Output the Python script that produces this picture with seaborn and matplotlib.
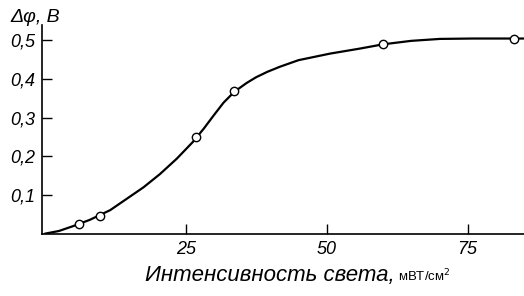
import numpy as np
import matplotlib
matplotlib.use("Agg")
import matplotlib.pyplot as plt
import seaborn as sns
import pandas as pd

# measured points (open circles)
point_x = [6.0, 9.8, 26.9, 33.6, 60.0, 83.3]
point_y = [0.024, 0.045, 0.249, 0.369, 0.491, 0.505]

# smooth curve
curve_x = [0.0, 2.5, 5.1, 8.0, 11.6, 14.5, 17.5, 20.4, 23.4, 26.3, 28.2, 29.9,
           31.7, 33.6, 35.8, 37.5, 39.5, 41.7, 45.0, 50.6, 55.9, 60.0, 65.0, 70.1,
           76.0, 83.3, 85.0]
curve_y = [0.0, 0.007, 0.020, 0.036, 0.061, 0.090, 0.120, 0.154, 0.194, 0.238,
           0.272, 0.305, 0.339, 0.367, 0.390, 0.405, 0.419, 0.432, 0.449, 0.466,
           0.479, 0.490, 0.499, 0.504, 0.505, 0.505, 0.505]

x_ticks = [25, 50, 75]
y_ticks = [0.1, 0.2, 0.3, 0.4, 0.5]
y_tick_labels = ["0,1", "0,2", "0,3", "0,4", "0,5"]

sns.set_style("ticks")
plt.rcParams['font.family'] = ['Liberation Sans', 'DejaVu Sans']
plt.rcParams['text.color'] = 'black'
plt.rcParams['xtick.color'] = 'black'
plt.rcParams['ytick.color'] = 'black'
plt.rcParams['axes.edgecolor'] = 'black'

W, H = 524, 296
fig = plt.figure(figsize=(W / 100, H / 100), dpi=100)
ax = fig.add_axes([42 / W, (H - 233.7) / H, (W - 42) / W, (233.7 - 25) / H])

curve = pd.DataFrame({'x': curve_x, 'y': curve_y})
points = pd.DataFrame({'x': point_x, 'y': point_y})
sns.lineplot(data=curve, x='x', y='y', ax=ax, color='black', linewidth=1.6, sort=False)
sns.scatterplot(data=points, x='x', y='y', ax=ax, s=36, facecolor='white',
                edgecolor='black', linewidth=1.0, zorder=3)

ax.set_xlim(-0.5, 85)
ax.set_ylim(0, 0.54)
ax.set_xticks(x_ticks)
ax.set_xticklabels([str(t) for t in x_ticks], fontstyle='italic', fontsize=13)
ax.set_yticks(y_ticks)
ax.set_yticklabels(y_tick_labels, fontstyle='italic', fontsize=13)
ax.tick_params(direction='in', length=7, width=1.0, pad=5)
sns.despine(ax=ax)
for s in ['left', 'bottom']:
    ax.spines[s].set_linewidth(1.2)
ax.set_xlabel('')
ax.set_ylabel('')

fig.text(395 / W, (H - 281) / H, 'Интенсивность света,', fontstyle='italic',
         fontsize=16, ha='right', va='baseline')
fig.text(398 / W, (H - 281) / H, 'мВТ/см$^2$', fontsize=9.5, ha='left', va='baseline')
fig.text(10 / W, (H - 22) / H, 'Δφ, В', fontstyle='italic', fontsize=14,
         ha='left', va='baseline')

plt.savefig('out.png', dpi=100)
plt.close()
